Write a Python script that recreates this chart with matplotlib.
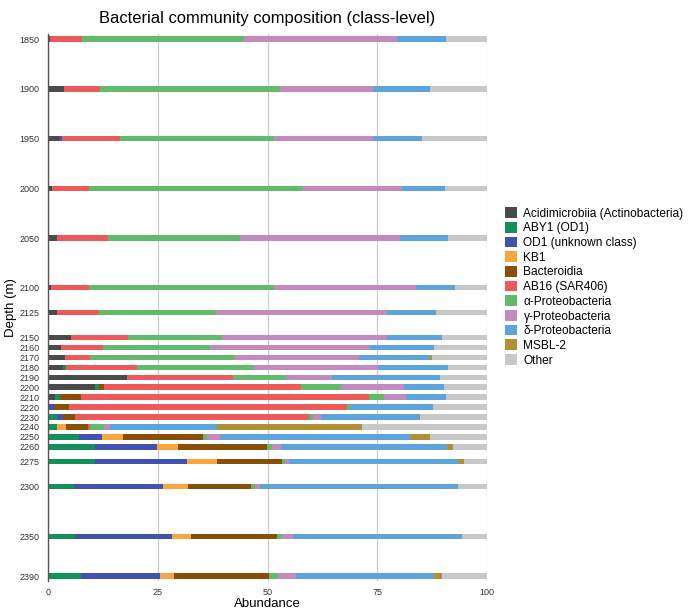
import matplotlib
matplotlib.use("Agg")
import matplotlib.pyplot as plt
from matplotlib.patches import Patch
import numpy as np

plt.rcParams['font.family'] = ['Liberation Sans', 'DejaVu Sans']

depths = [1850, 1900, 1950, 2000, 2050, 2100, 2125, 2150, 2160, 2170, 2180, 2190,
          2200, 2210, 2220, 2230, 2240, 2250, 2260, 2275, 2300, 2350, 2390]

categories = ["Acidimicrobiia (Actinobacteria)", "ABY1 (OD1)", "OD1 (unknown class)", "KB1",
              "Bacteroidia", "AB16 (SAR406)", "α-Proteobacteria", "γ-Proteobacteria",
              "δ-Proteobacteria", "MSBL-2", "Other"]

acidimicrobiia = [0.5, 3.7, 2.6, 0.8, 2.1, 0.6, 2.1, 5.2, 3.0, 3.9, 3.3, 18.1,
                  10.6, 1.6, 0.0, 0.0, 0.0, 0.0, 0.0, 0.0, 0.0, 0.0, 0.0]
aby1 = [0, 0, 0, 0, 0, 0, 0, 0, 0, 0, 0.8, 0,
        1.0, 1.1, 0.3, 2.0, 2.0, 7.1, 10.6, 10.6, 5.9, 6.1, 7.5]
od1 = [0, 0, 0.6, 0, 0, 0, 0, 0, 0, 0, 0, 0,
       0, 0, 1.1, 1.3, 0, 5.2, 14.3, 21.0, 20.2, 22.1, 18.1]
kb1 = [0, 0, 0, 0, 0, 0, 0, 0, 0, 0, 0, 0,
       0, 0, 0, 0, 2.1, 4.7, 4.8, 7.0, 5.8, 4.4, 3.1]
bacteroidia = [0, 0, 0, 0, 0, 0, 0, 0, 0, 0, 0, 0,
               1.2, 4.8, 3.4, 2.9, 4.9, 18.4, 20.1, 14.6, 14.3, 19.6, 21.7]
ab16 = [7.2, 8.1, 13.2, 8.5, 11.6, 8.8, 9.6, 13.0, 9.5, 5.7, 16.1, 24.1,
        44.8, 65.6, 63.4, 53.3, 0.6, 0, 0, 0, 0, 0, 0]
alpha = [36.9, 41.0, 35.1, 48.7, 30.0, 42.0, 26.6, 21.4, 24.3, 33.0, 26.8, 11.9,
         9.1, 3.5, 0.7, 0.8, 3.2, 0.7, 1.2, 0.8, 1.0, 1.1, 1.9]
gamma = [35.0, 21.3, 22.6, 22.6, 36.4, 32.4, 39.0, 37.7, 36.5, 28.2, 28.2, 10.5,
         14.5, 4.9, 0.0, 1.8, 1.3, 3.1, 2.0, 1.0, 1.2, 2.4, 4.3]
delta = [11.1, 12.8, 11.2, 9.9, 11.0, 8.8, 11.1, 12.4, 14.6, 16.2, 15.8, 24.7,
         9.1, 9.2, 18.9, 22.3, 24.5, 43.3, 37.8, 38.3, 44.9, 38.6, 31.4]
msbl2 = [0, 0, 0, 0, 0, 0, 0, 0, 0, 0.5, 0, 0,
         0, 0, 0, 0.3, 32.9, 4.5, 1.5, 1.5, 0, 0, 1.7]
other = [9.3, 13.1, 14.7, 9.5, 8.9, 7.4, 11.6, 10.3, 12.1, 12.5, 9.0, 10.7,
         9.7, 9.3, 12.2, 15.3, 28.5, 13.0, 7.7, 5.2, 6.7, 5.7, 10.3]

colors = ["#4a4a4a", "#14905a", "#4152b0", "#fba53e", "#8a4f06", "#ee5a5a",
          "#62bb6a", "#c28bc0", "#5ea4dc", "#b18f33", "#c8c8c8"]

series = [acidimicrobiia, aby1, od1, kb1, bacteroidia, ab16, alpha, gamma, delta, msbl2, other]

fig = plt.figure(figsize=(6.91, 6.11), dpi=100)
ax = fig.add_axes([0.0695, 0.049, 0.6353, 0.895])

left = np.zeros(len(depths))
for vals, col in zip(series, colors):
    v = np.array(vals, dtype=float)
    ax.barh(depths, v, left=left, height=5.5, color=col, edgecolor='none', zorder=3)
    left += v

ax.set_xlim(0, 100)
ax.set_ylim(2395, 1845)
ax.set_yticks(depths)
ax.set_yticklabels([str(d) for d in depths], fontsize=6.5, color='#333333')
ax.set_xticks([0, 25, 50, 75, 100])
ax.set_xticklabels(['0', '25', '50', '75', '100'], fontsize=6.5, color='#333333')
ax.tick_params(axis='x', length=0, pad=5)
ax.tick_params(axis='y', length=0, pad=6)
ax.grid(axis='x', color='#cccccc', linewidth=0.9, zorder=0)
for s in ['top', 'bottom', 'right']:
    ax.spines[s].set_visible(False)
ax.spines['left'].set_color('#555555')
ax.spines['left'].set_linewidth(1.0)
ax.spines['left'].set_zorder(4)

ax.set_xlabel('Abundance', fontsize=9.5, labelpad=1)
ax.set_ylabel('Depth (m)', fontsize=9.5, labelpad=2)
fig.text(0.386, 0.970, 'Bacterial community composition (class-level)',
         ha='center', va='center', fontsize=11.9)

handles = [Patch(facecolor=c, edgecolor='none', label=l) for c, l in zip(colors, categories)]
fig.legend(handles=handles, loc='upper left', bbox_to_anchor=(0.7308, 0.661),
           frameon=False, fontsize=8.6, handlelength=1.0, handleheight=1.0,
           handletextpad=0.55, labelspacing=0.19, borderaxespad=0, borderpad=0)

fig.savefig('out.png', dpi=100)
